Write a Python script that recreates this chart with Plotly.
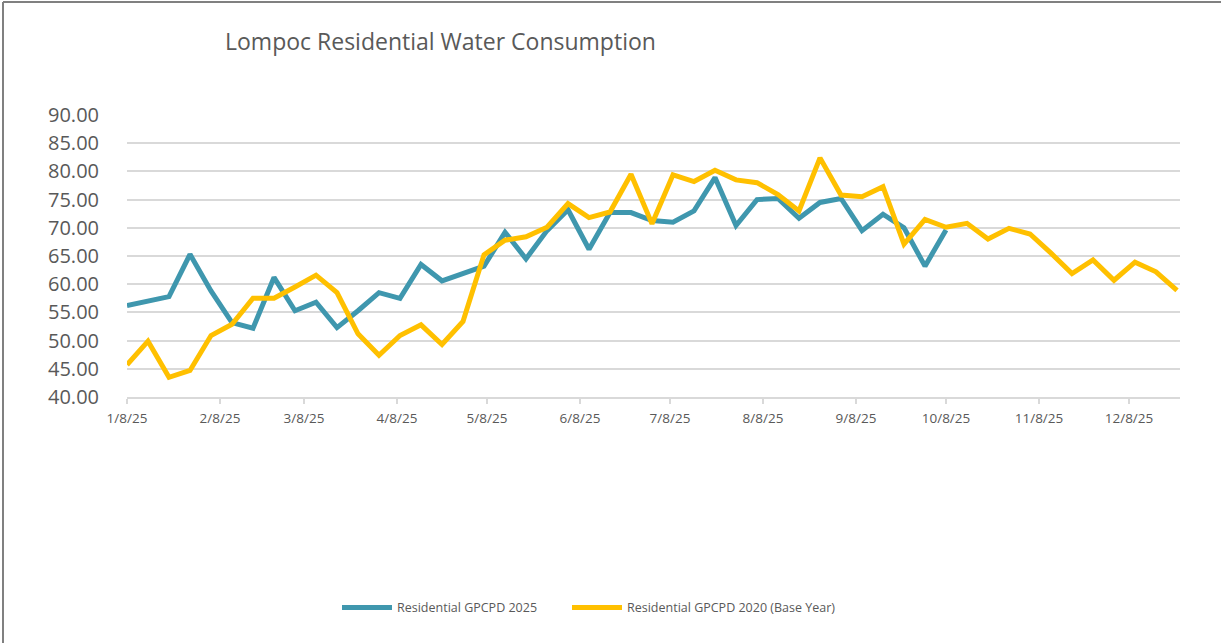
import pandas as pd
import plotly.graph_objects as go

# Weekly dates starting 1/8/25
start_date = "2025-01-08"
n_weeks = 51
dates = pd.date_range(start_date, periods=n_weeks, freq="7D")

gpcpd_2025 = [56.2, 57.0, 57.8, 65.3, 58.8, 53.2, 52.2, 61.2, 55.3, 56.8,
              52.3, 55.3, 58.5, 57.5, 63.5, 60.6, 61.8, 63.2, 69.2, 64.5,
              69.5, 73.2, 66.2, 72.7, 72.7, 71.3, 71.0, 73.0, 78.9, 70.4,
              75.0, 75.2, 71.7, 74.5, 75.2, 69.5, 72.4, 70.0, 63.2, 69.6]

gpcpd_2020 = [45.7, 49.9, 43.5, 44.7, 50.9, 52.9, 57.5, 57.5, 59.5, 61.6,
              58.5, 51.2, 47.4, 50.9, 52.8, 49.3, 53.4, 65.2, 67.8, 68.4,
              70.1, 74.3, 71.8, 72.8, 79.5, 70.7, 79.4, 78.2, 80.2, 78.5,
              78.0, 75.9, 73.0, 82.4, 75.8, 75.5, 77.3, 67.1, 71.5, 70.1,
              70.8, 68.0, 69.9, 68.9, 65.5, 61.9, 64.3, 60.7, 63.9, 62.2,
              58.9]

tick_dates = pd.date_range("2025-01-01", periods=12, freq="MS") + pd.Timedelta(days=7)
tick_labels = ["1/8/25", "2/8/25", "3/8/25", "4/8/25", "5/8/25", "6/8/25",
               "7/8/25", "8/8/25", "9/8/25", "10/8/25", "11/8/25", "12/8/25"]
y_ticks = [40, 45, 50, 55, 60, 65, 70, 75, 80, 85, 90]

BLUE = "#3F97AE"
YELLOW = "#FFC000"
TXT = "#595959"
GRID = "#D9D9D9"

fig = go.Figure()
fig.add_trace(go.Scatter(x=dates[:len(gpcpd_2025)], y=gpcpd_2025, mode="lines",
                         name="Residential GPCPD 2025", legend="legend",
                         line=dict(color=BLUE, width=5)))
fig.add_trace(go.Scatter(x=dates, y=gpcpd_2020, mode="lines",
                         name="Residential GPCPD 2020 (Base Year)", legend="legend2",
                         line=dict(color=YELLOW, width=5)))

legend_common = dict(orientation="h", xanchor="left", y=-0.748, yanchor="middle",
                     font=dict(size=12.5, color=TXT), itemwidth=50,
                     bgcolor="rgba(0,0,0,0)")

fig.update_layout(
    width=1222, height=643,
    margin=dict(l=127, r=42, t=115, b=246),
    paper_bgcolor="white", plot_bgcolor="white",
    font=dict(family="Open Sans", color=TXT),
    title=dict(text="Lompoc Residential Water Consumption",
               x=225 / 1222, xanchor="left", xref="container",
               y=1 - 42 / 643, yanchor="middle", yref="container",
               font=dict(size=23, color=TXT, family="Open Sans")),
    showlegend=True,
    legend=dict(x=(337 - 127) / 1053, **legend_common),
    legend2=dict(x=(567 - 127) / 1053, **legend_common),
    xaxis=dict(type="date", range=["2025-01-08", "2025-12-25"],
               tickvals=tick_dates, ticktext=tick_labels,
               showgrid=False, zeroline=False,
               showline=True, linecolor=GRID, linewidth=1.5,
               ticks="outside", ticklen=5, tickcolor=GRID, tickwidth=1.5,
               tickfont=dict(size=13.5, color=TXT), ticklabelstandoff=3),
    yaxis=dict(range=[40, 90], tickvals=y_ticks, tickformat=".2f",
               showgrid=True, gridcolor=GRID, gridwidth=1.5,
               zeroline=False, showline=False, ticks="",
               tickfont=dict(size=20, color=TXT), ticklabelstandoff=27),
    shapes=[
        dict(type="line", xref="paper", yref="paper",
             x0=(3 - 127) / 1053, x1=(3 - 127) / 1053,
             y0=(397 - 2) / 282, y1=(397 - 643) / 282,
             line=dict(color="#808080", width=2)),
        dict(type="line", xref="paper", yref="paper",
             x0=(3 - 127) / 1053, x1=(1221 - 127) / 1053,
             y0=(397 - 2) / 282, y1=(397 - 2) / 282,
             line=dict(color="#808080", width=2)),
    ],
)

fig.write_html("out.html",
               config={"displayModeBar": False},
               post_script="document.body.style.margin='0';"
                           "document.body.style.overflow='hidden';")
